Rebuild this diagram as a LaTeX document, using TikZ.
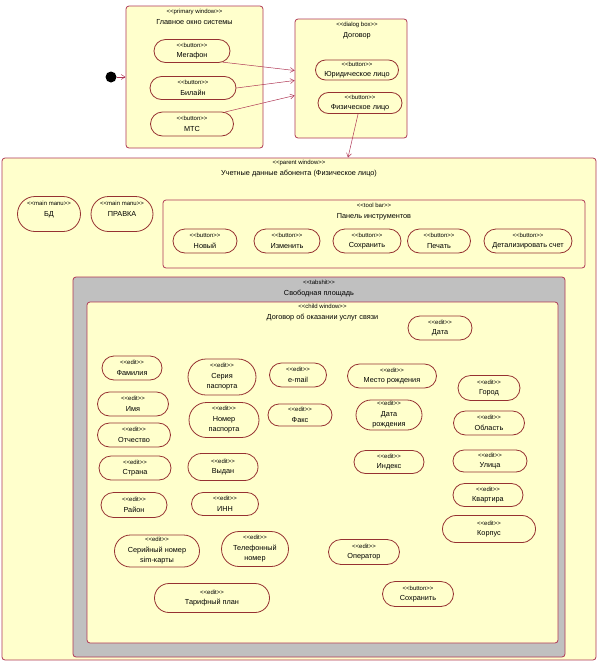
\documentclass[tikz,border=0pt]{standalone}
\usepackage{fontspec}
\setmainfont{Liberation Sans}
\usetikzlibrary{positioning,shapes.misc,arrows.meta,calc}
\definecolor{winline}{RGB}{175,55,85}
\definecolor{pillline}{RGB}{150,50,50}
\definecolor{winfill}{RGB}{255,255,204}
\definecolor{tabfill}{RGB}{192,192,192}
\newcommand\st[1]{{\fontsize{6}{6.5}\selectfont <{}<#1>{}>}}
\begin{document}
\begin{tikzpicture}[x=1pt,y=-1pt,
    win/.style={draw=winline,fill=winfill,line width=0.8pt,rounded corners=3pt,inner sep=0pt},
    pill/.style 2 args={rounded rectangle,draw=pillline,fill=winfill,line width=0.8pt,align=center,
      inner sep=1pt,minimum width=#1pt,minimum height=#2pt,font=\fontsize{7.3}{10.5}\selectfont,
      execute at end node={\\[-5pt]\mbox{}}},
    wtitle/.style={align=center,inner sep=0pt,font=\fontsize{7.3}{11}\selectfont},
    link/.style={draw=winline,line width=0.5pt,-{Straight Barb[length=4pt,width=5pt]}}]
  \useasboundingbox (0,0) rectangle (599,667);
  % windows
  \node[win, minimum width=594pt, minimum height=502pt] (parent) at (299,409) {};
  \node[win, minimum width=137pt, minimum height=142pt] (primary) at (194.5,77) {};
  \node[win, minimum width=112pt, minimum height=119pt] (dlg) at (351,78.5) {};
  \node[win, minimum width=422pt, minimum height=68pt] (toolbar) at (374,234) {};
  \node[win, fill=tabfill, minimum width=492pt, minimum height=380pt] (tabshit) at (319,467) {};
  \node[win, minimum width=471pt, minimum height=341pt] (child) at (322.5,472.5) {};
  \node[wtitle, below=3pt of primary.north] (primaryT) {\st{primary window}\\Главное окно системы};
  \node[wtitle, below=3pt of dlg.north, xshift=6pt] (dlgT) {\st{dialog box}\\Договор};
  \node[wtitle, below=2pt of parent.north] (parentT) {\st{parent window}\\Учетные данные абонента (Физическое лицо)};
  \node[wtitle, below=3pt of toolbar.north] (toolbarT) {\st{tool bar}\\Панель инструментов};
  \node[wtitle, below=3pt of tabshit.north] (tabshitT) {\st{tabshit}\\Свободная площадь};
  \node[wtitle, below=2pt of child.north] (childT) {\st{child window}\\Договор об оказании услуг связи};
  % start
  \node[circle, fill=black, inner sep=0pt, minimum size=11pt] (init) at (111,77) {};
  % primary window
  \node[pill={78}{23}] (megafon) at (192,51) {\st{button}\\Мегафон};
  \node[pill={88}{23}] (bilain) at (193,88) {\st{button}\\Билайн};
  \node[pill={85}{24}] (mts) at (192,124) {\st{button}\\МТС};
  % dialog box
  \node[pill={85}{20}] (yur) at (357,70) {\st{button}\\Юридическое лицо};
  \node[pill={86}{21}] (fiz) at (360,103) {\st{button}\\Физическое лицо};
  % parent window
  \node[pill={65}{35}] (bd) at (49,214) {\st{main manu}\\БД\\\mbox{}};
  \node[pill={64}{35}] (pravka) at (122,214) {\st{main manu}\\ПРАВКА\\\mbox{}};
  \node[pill={66}{24}] (novy) at (205,241) {\st{button}\\Новый};
  \node[pill={68}{24}] (izm) at (287,241) {\st{button}\\Изменить};
  \node[pill={70}{24}] (sohr) at (367,241) {\st{button}\\Сохранить};
  \node[pill={65}{24}] (pechat) at (439,241) {\st{button}\\Печать};
  \node[pill={90}{24}] (detal) at (528,241) {\st{button}\\Детализировать счет};
  % child window
  \node[pill={66}{24}] (data) at (440,328) {\st{edit}\\Дата};
  \node[pill={62}{24}] (fam) at (132,368) {\st{edit}\\Фамилия};
  \node[pill={73}{24}] (imya) at (133,404) {\st{edit}\\Имя};
  \node[pill={75}{24}] (otch) at (134,435) {\st{edit}\\Отчество};
  \node[pill={74}{24}] (strana) at (135,468) {\st{edit}\\Страна};
  \node[pill={68}{25}] (rayon) at (134,505) {\st{edit}\\Район};
  \node[pill={70}{36}] (seria) at (222,377) {\st{edit}\\Серия\\паспорта};
  \node[pill={72}{35}] (nomer) at (224,420) {\st{edit}\\Номер\\паспорта};
  \node[pill={72}{27}] (vydan) at (223,467) {\st{edit}\\Выдан};
  \node[pill={69}{23}] (inn) at (225,504) {\st{edit}\\ИНН};
  \node[pill={59}{24}] (email) at (298,375) {\st{edit}\\e-mail};
  \node[pill={66}{22}] (faks) at (300,415) {\st{edit}\\Факс};
  \node[pill={91}{24}] (mesto) at (392,376) {\st{edit}\\Место рождения};
  \node[pill={68}{30}] (datar) at (389,415) {\st{edit}\\Дата\\рождения};
  \node[pill={72}{23}] (index) at (389,462) {\st{edit}\\Индекс};
  \node[pill={64}{25}] (gorod) at (489,388) {\st{edit}\\Город};
  \node[pill={73}{24}] (obl) at (489,423) {\st{edit}\\Область};
  \node[pill={76}{22}] (ulica) at (490,461) {\st{edit}\\Улица};
  \node[pill={72}{23}] (kvart) at (488,495) {\st{edit}\\Квартира};
  \node[pill={95}{27}] (korp) at (489,529) {\st{edit}\\Корпус};
  \node[pill={73}{25}] (oper) at (364,552) {\st{edit}\\Оператор};
  \node[pill={87}{32}] (sim) at (157,551) {\st{edit}\\Серийный номер\\sim-карты};
  \node[pill={69}{35}] (tel) at (255,549) {\st{edit}\\Телефонный\\номер};
  \node[pill={117}{29}] (tarif) at (212,598) {\st{edit}\\Тарифный план};
  \node[pill={73}{25}] (save) at (418,594) {\st{button}\\Сохранить};
  % transitions
  \draw[link] (init) -- (primary.west);
  \draw[link] (megafon.-20) -- ($(dlg.west)+(0,-8)$);
  \draw[link] (bilain.east) -- ($(dlg.west)+(0,2)$);
  \draw[link] (mts.20) -- ($(dlg.west)+(0,17)$);
  \draw[link] (fiz.-100) -- ($(parent.north)+(49,0)$);
\end{tikzpicture}
\end{document}
